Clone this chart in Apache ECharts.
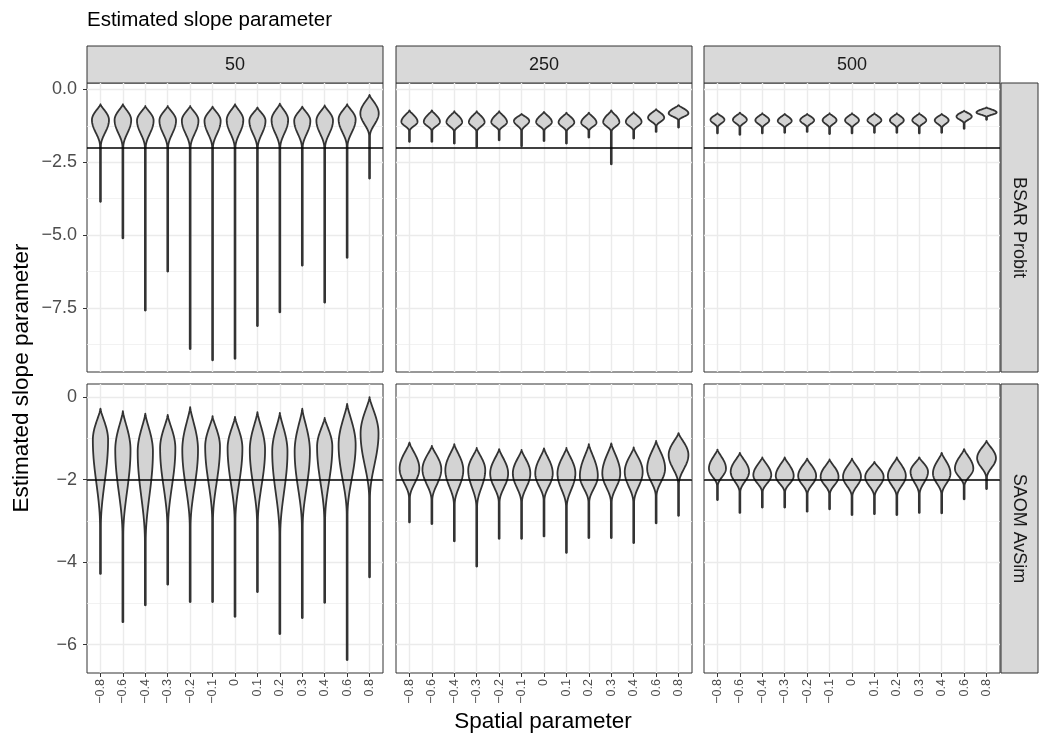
<!DOCTYPE html>
<html>
<head>
<meta charset="utf-8">
<title>Estimated slope parameter</title>
<script src="https://cdn.jsdelivr.net/npm/echarts@6.0.0/dist/echarts.min.js"></script>
<style>
  html, body { margin: 0; padding: 0; background: #fff; }
  #chart { width: 1048px; height: 748px; }
</style>
</head>
<body>
<div id="chart"></div>
<script>
  // categories and facet labels
  const spatial = ['\u22120.8', '\u22120.6', '\u22120.4', '\u22120.3', '\u22120.2', '\u22120.1', '0', '0.1', '0.2', '0.3', '0.4', '0.6', '0.8']
  const sizes = ['50', '250', '500']
  const models = ['BSAR Probit', 'SAOM AvSim']
  const trueSlope = -2

  // y ticks per row (major labelled, minor grid only)
  const probitTicks = [0, -2.5, -5, -7.5]
  const probitMinor = [-1.25, -3.75, -6.25, -8.75]
  const saomTicks = [0, -2, -4, -6]
  const saomMinor = [-1, -3, -5]

  // violins: top, widest point, where the tail starts, bottom, half width (category units)
  const probit50Max = [-0.51, -0.51, -0.57, -0.57, -0.57, -0.59, -0.51, -0.62, -0.49, -0.59, -0.55, -0.51, -0.19]
  const probit50Mode = [-1.05, -1.05, -1.07, -1.07, -1.07, -1.08, -1.05, -1.08, -1.05, -1.08, -1.07, -1.03, -0.82]
  const probit50Neck = [-1.95, -1.98, -2.0, -2.0, -2.0, -2.0, -2.0, -2.0, -2.0, -2.0, -2.0, -1.95, -1.6]
  const probit50Min = [-3.85, -5.10, -7.58, -6.24, -8.90, -9.29, -9.24, -8.11, -7.64, -6.04, -7.31, -5.77, -3.05]
  const probit50Width = [0.38, 0.37, 0.37, 0.37, 0.37, 0.36, 0.37, 0.36, 0.37, 0.36, 0.37, 0.38, 0.41]

  const probit250Max = [-0.72, -0.72, -0.75, -0.75, -0.75, -0.84, -0.77, -0.80, -0.80, -0.72, -0.78, -0.68, -0.54]
  const probit250Mode = [-1.11, -1.11, -1.12, -1.12, -1.12, -1.08, -1.12, -1.13, -1.14, -1.12, -1.11, -0.97, -0.82]
  const probit250Neck = [-1.42, -1.42, -1.44, -1.44, -1.42, -1.42, -1.42, -1.44, -1.42, -1.44, -1.42, -1.26, -1.06]
  const probit250Min = [-1.79, -1.79, -1.85, -1.96, -1.74, -1.94, -1.76, -1.85, -1.64, -2.56, -1.68, -1.45, -1.30]
  const probit250Width = [0.36, 0.36, 0.35, 0.35, 0.35, 0.34, 0.35, 0.35, 0.34, 0.36, 0.35, 0.36, 0.44]

  const probit500Max = [-0.82, -0.80, -0.82, -0.84, -0.84, -0.82, -0.82, -0.82, -0.82, -0.82, -0.84, -0.73, -0.62]
  const probit500Mode = [-1.04, -1.04, -1.06, -1.08, -1.06, -1.06, -1.06, -1.06, -1.06, -1.06, -1.06, -0.93, -0.79]
  const probit500Neck = [-1.30, -1.30, -1.32, -1.32, -1.30, -1.32, -1.32, -1.30, -1.32, -1.30, -1.32, -1.16, -0.95]
  const probit500Min = [-1.50, -1.55, -1.50, -1.48, -1.45, -1.52, -1.50, -1.48, -1.48, -1.50, -1.48, -1.34, -1.03]
  const probit500Width = [0.31, 0.31, 0.31, 0.31, 0.31, 0.31, 0.31, 0.31, 0.31, 0.31, 0.31, 0.34, 0.45]

  const saom50Max = [-0.28, -0.34, -0.40, -0.43, -0.24, -0.46, -0.48, -0.36, -0.38, -0.28, -0.50, -0.16, 0.0]
  const saom50Mode = [-1.04, -1.28, -1.32, -1.24, -1.28, -1.20, -1.24, -1.28, -1.32, -1.32, -1.20, -1.16, -0.88]
  const saom50Neck = [-3.15, -3.35, -3.50, -3.15, -3.15, -3.00, -3.00, -3.05, -3.35, -3.15, -3.00, -2.85, -2.45]
  const saom50Min = [-4.28, -5.45, -5.04, -4.54, -4.96, -4.96, -5.32, -4.72, -5.74, -5.35, -4.98, -6.37, -4.36]
  const saom50Width = [0.34, 0.34, 0.34, 0.34, 0.35, 0.33, 0.33, 0.34, 0.34, 0.34, 0.34, 0.38, 0.40]

  const saom250Max = [-1.10, -1.18, -1.14, -1.23, -1.26, -1.28, -1.24, -1.23, -1.14, -1.12, -1.22, -1.06, -0.87]
  const saom250Mode = [-1.73, -1.75, -1.77, -1.77, -1.85, -1.85, -1.85, -1.85, -1.91, -1.85, -1.81, -1.73, -1.40]
  const saom250Neck = [-2.45, -2.50, -2.60, -2.65, -2.55, -2.55, -2.50, -2.65, -2.55, -2.55, -2.55, -2.40, -2.10]
  const saom250Min = [-3.03, -3.07, -3.49, -4.10, -3.43, -3.43, -3.37, -3.77, -3.41, -3.41, -3.53, -3.05, -2.87]
  const saom250Width = [0.44, 0.42, 0.40, 0.38, 0.40, 0.39, 0.39, 0.40, 0.40, 0.40, 0.40, 0.40, 0.44]

  const saom500Max = [-1.27, -1.35, -1.46, -1.46, -1.49, -1.51, -1.49, -1.57, -1.46, -1.46, -1.35, -1.26, -1.06]
  const saom500Mode = [-1.73, -1.81, -1.89, -1.91, -1.91, -1.93, -1.93, -1.93, -1.91, -1.81, -1.85, -1.73, -1.48]
  const saom500Neck = [-2.15, -2.30, -2.30, -2.30, -2.35, -2.35, -2.40, -2.40, -2.40, -2.35, -2.35, -2.15, -1.95]
  const saom500Min = [-2.49, -2.80, -2.67, -2.67, -2.77, -2.71, -2.85, -2.83, -2.85, -2.80, -2.81, -2.47, -2.22]
  const saom500Width = [0.38, 0.41, 0.40, 0.40, 0.40, 0.40, 0.40, 0.41, 0.40, 0.39, 0.39, 0.41, 0.42]

  const font = '"Liberation Sans", Arial, Helvetica, sans-serif'
  const positions = spatial.map((s, i) => i + 1)

  // facet layout (pixels)
  const colLeft = [87, 396, 704]
  const rowTop = [83, 384]
  const panelW = 296
  const panelH = 289
  const rowRange = [[-9.70, 0.22], [-6.69, 0.32]]
  const rowTicks = [probitTicks, saomTicks]
  const rowMinor = [probitMinor, saomMinor]

  const panels = [
    [probit50Max, probit50Mode, probit50Neck, probit50Min, probit50Width],
    [probit250Max, probit250Mode, probit250Neck, probit250Min, probit250Width],
    [probit500Max, probit500Mode, probit500Neck, probit500Min, probit500Width],
    [saom50Max, saom50Mode, saom50Neck, saom50Min, saom50Width],
    [saom250Max, saom250Mode, saom250Neck, saom250Min, saom250Width],
    [saom500Max, saom500Mode, saom500Neck, saom500Min, saom500Width]
  ]

  // violin outline: pointed top, widest at mode, tapering to a thin tail
  function renderViolin(params, api) {
    const x = api.value(0)
    const cx = api.coord([x, 0])[0]
    const yTop = api.coord([x, api.value(1)])[1]
    const yMode = api.coord([x, api.value(2)])[1]
    const yNeck = api.coord([x, api.value(3)])[1]
    const yLow = api.coord([x, api.value(4)])[1]
    const half = api.value(5) * api.size([1, 0])[0]
    const tail = 0.4
    const n = 24
    const side = []
    for (let i = 0; i <= n; i++) {
      const s = i / n
      side.push([yTop + (yMode - yTop) * s, half * Math.pow(Math.sin(s * Math.PI / 2), 1.3)])
    }
    for (let i = 1; i <= n; i++) {
      const s = i / n
      const c = Math.cos(s * Math.PI / 2)
      side.push([yMode + (yNeck - yMode) * s, tail + (half - tail) * c * c])
    }
    side.push([yLow, tail])
    side.push([yLow + 0.3, 0])
    const pts = side.map(p => [cx - p[1], p[0]])
    for (let i = side.length - 1; i >= 0; i--) pts.push([cx + side[i][1], side[i][0]])
    return {
      type: 'polygon',
      shape: { points: pts },
      style: { fill: '#D3D3D3', stroke: '#333333', lineWidth: 1.8, lineJoin: 'round' }
    }
  }

  const grids = []
  const xAxes = []
  const yAxes = []
  const series = []
  const graphics = []

  panels.forEach((p, k) => {
    const row = Math.floor(k / 3)
    const col = k % 3
    grids.push({
      left: colLeft[col], top: rowTop[row], width: panelW, height: panelH,
      show: true, borderColor: '#333333', borderWidth: 1, backgroundColor: '#fff'
    })
    const showX = row === 1
    xAxes.push({
      type: 'value', gridIndex: k, min: 0.4, max: 13.6,
      axisLine: { show: false, onZero: false },
      axisTick: { show: showX, customValues: positions, length: 4, lineStyle: { color: '#333333', width: 1 } },
      axisLabel: {
        show: showX, customValues: positions, rotate: 90, margin: 6,
        fontSize: 12.5, color: '#4D4D4D', fontFamily: font,
        formatter: v => spatial[Math.round(v) - 1]
      },
      splitLine: { show: true, lineStyle: { color: '#EBEBEB', width: 1.4 } }
    })
    const showY = col === 0
    const dec = row === 0 ? 1 : 0
    yAxes.push({
      type: 'value', gridIndex: k, position: 'left',
      min: rowRange[row][0], max: rowRange[row][1],
      axisLine: { show: false, onZero: false },
      axisTick: { show: showY, customValues: rowTicks[row], length: 4, lineStyle: { color: '#333333', width: 1 } },
      axisLabel: {
        show: showY, customValues: rowTicks[row], margin: 10,
        fontSize: 18, color: '#4D4D4D', fontFamily: font,
        formatter: v => v.toFixed(dec).replace('-', '\u2212')
      },
      splitLine: { show: true, lineStyle: { color: '#EBEBEB', width: 1.4 } }
    })
    yAxes.push({
      type: 'value', gridIndex: k, position: 'left',
      min: rowRange[row][0], max: rowRange[row][1],
      axisLine: { show: false, onZero: false },
      axisTick: { show: false, customValues: rowMinor[row] },
      axisLabel: { show: false, customValues: rowMinor[row] },
      splitLine: { show: true, lineStyle: { color: '#EFEFEF', width: 0.8 } }
    })
    const data = p[0].map((v, i) => [i + 1, v, p[1][i], p[2][i], p[3][i], p[4][i]])
    series.push({
      type: 'custom', xAxisIndex: k, yAxisIndex: 2 * k,
      renderItem: renderViolin, encode: { x: 0, y: [1, 2, 3, 4] },
      data: data, clip: true, silent: true, z: 3,
      markLine: {
        silent: true, symbol: 'none', label: { show: false },
        lineStyle: { color: '#000000', width: 1.7, type: 'solid' },
        emphasis: { disabled: true },
        data: [{ yAxis: trueSlope }]
      }
    })
  })

  // facet strips
  sizes.forEach((s, c) => {
    graphics.push({
      type: 'rect', shape: { x: colLeft[c], y: 46, width: panelW, height: 37 },
      style: { fill: '#D9D9D9', stroke: '#333333', lineWidth: 1 }
    })
    graphics.push({
      type: 'text', x: colLeft[c] + panelW / 2, y: 65,
      style: { text: s, align: 'center', verticalAlign: 'middle', textAlign: 'center', textVerticalAlign: 'middle', fontSize: 18, fontFamily: font, fill: '#1A1A1A' }
    })
  })
  models.forEach((m, r) => {
    graphics.push({
      type: 'rect', shape: { x: 1001, y: rowTop[r], width: 37, height: panelH },
      style: { fill: '#D9D9D9', stroke: '#333333', lineWidth: 1 }
    })
    graphics.push({
      type: 'text', x: 1019, y: rowTop[r] + panelH / 2, rotation: -Math.PI / 2,
      style: { text: m, align: 'center', verticalAlign: 'middle', textAlign: 'center', textVerticalAlign: 'middle', fontSize: 18, fontFamily: font, fill: '#1A1A1A' }
    })
  })
  // titles
  graphics.push({
    type: 'text', x: 87, y: 20,
    style: { text: 'Estimated slope parameter', align: 'left', verticalAlign: 'middle', textAlign: 'left', textVerticalAlign: 'middle', fontSize: 20.5, fontFamily: font, fill: '#000000' }
  })
  graphics.push({
    type: 'text', x: 22, y: 378, rotation: Math.PI / 2,
    style: { text: 'Estimated slope parameter', align: 'center', verticalAlign: 'middle', textAlign: 'center', textVerticalAlign: 'middle', fontSize: 22.5, fontFamily: font, fill: '#000000' }
  })
  graphics.push({
    type: 'text', x: 543, y: 722,
    style: { text: 'Spatial parameter', align: 'center', verticalAlign: 'middle', textAlign: 'center', textVerticalAlign: 'middle', fontSize: 22.5, fontFamily: font, fill: '#000000' }
  })

  const chart = echarts.init(document.getElementById('chart'))
  chart.setOption({
    animation: false,
    backgroundColor: '#ffffff',
    grid: grids,
    xAxis: xAxes,
    yAxis: yAxes,
    series: series,
    graphic: graphics
  })
</script>
</body>
</html>
